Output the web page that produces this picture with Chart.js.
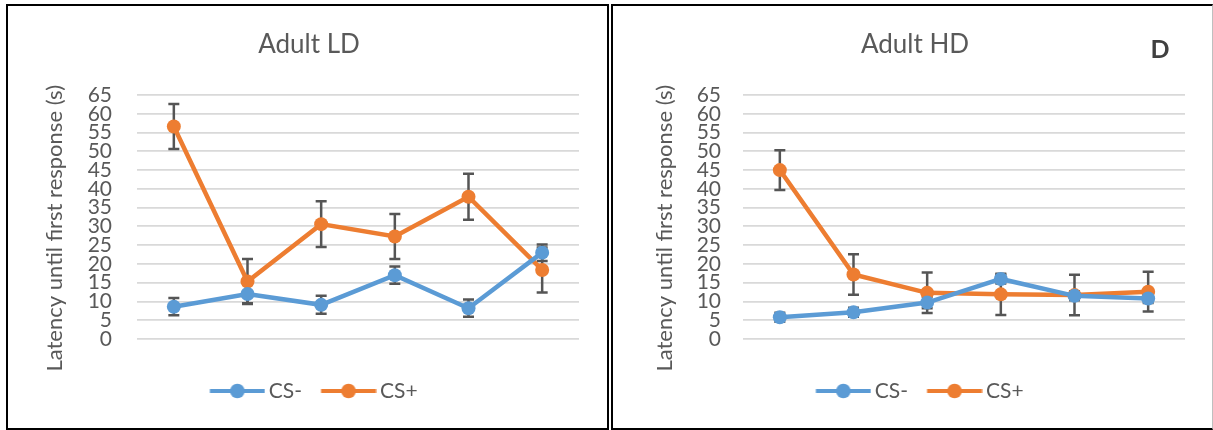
<!DOCTYPE html>
<html>
<head>
<meta charset="utf-8">
<script src="https://cdn.jsdelivr.net/npm/chart.js@4.4.1/dist/chart.umd.min.js"></script>
<style>
  html, body { margin: 0; padding: 0; background: #ffffff; }
  body { width: 1213px; height: 430px; position: relative; overflow: hidden; font-family: Lato, sans-serif; }
  .panel { position: absolute; box-sizing: border-box; background: #ffffff; }
  #panelLD { left: 6px; top: 4px; width: 603px; height: 426px; border: 2.5px solid #000000; }
  #panelHD { left: 611px; top: 4px; width: 602px; height: 426px;
             border-left: 2.5px solid #000000; border-top: 2.5px solid #000000;
             border-bottom: 2.5px solid #000000; border-right: 1.5px solid #bfbfbf; }
  canvas { position: absolute; }
  #chartLD { left: 8px; top: 6px; }
  #chartHD { left: 613px; top: 6px; }
  #tag { position: absolute; left: 1160px; top: 48px; transform: translate(-50%, -50%);
         font: bold 25px Lato, sans-serif; color: #404040; }
</style>
</head>
<body>
<div class="panel" id="panelLD"></div>
<div class="panel" id="panelHD"></div>
<canvas id="chartLD" width="598" height="422"></canvas>
<canvas id="chartHD" width="598" height="422"></canvas>
<div id="tag">D</div>
<script>
// Trials (not labelled on the x axis)
const trials = ['1', '2', '3', '4', '5', '6'];

// Y axis ticks
const yTicks = [0, 5, 10, 15, 20, 25, 30, 35, 40, 45, 50, 55, 60, 65];

// Adult LD: mean latency and error (s)
const ldCsMinus    = [8.6, 12.0, 9.1, 17.0, 8.2, 23.0];
const ldCsMinusErr = [2.3, 2.5, 2.4, 2.3, 2.3, 2.2];
const ldCsPlus     = [56.6, 15.3, 30.6, 27.3, 37.9, 18.4];
const ldCsPlusErr  = [6.0, 6.0, 6.1, 6.0, 6.1, 6.0];

// Adult HD: mean latency and error (s)
const hdCsMinus    = [5.8, 7.1, 9.7, 16.0, 11.5, 10.8];
const hdCsMinusErr = [1.2, 1.2, 1.5, 1.2, 1.2, 1.2];
const hdCsPlus     = [45.0, 17.2, 12.3, 11.9, 11.7, 12.6];
const hdCsPlusErr  = [5.3, 5.4, 5.4, 5.5, 5.4, 5.3];

const BLUE = '#5B9BD5';
const ORANGE = '#ED7D31';
const TEXT = '#595959';

Chart.defaults.font.family = 'Lato, "Open Sans", sans-serif';
Chart.defaults.color = TEXT;

// Legend swatch: a short line with a marker in the middle, sitting in the
// right part of a wider transparent image so the legend row stays centred
function legendSwatch(color) {
  const c = document.createElement('canvas');
  c.width = 72; c.height = 16;
  const g = c.getContext('2d');
  const x0 = 16.5, x1 = 71.5;
  g.strokeStyle = color; g.lineWidth = 4; g.lineCap = 'butt';
  g.beginPath(); g.moveTo(x0, 8); g.lineTo(x1, 8); g.stroke();
  g.fillStyle = color;
  g.beginPath(); g.arc((x0 + x1) / 2, 8, 7.3, 0, Math.PI * 2); g.fill();
  return c;
}
const swatchBlue = legendSwatch(BLUE);
const swatchOrange = legendSwatch(ORANGE);

// Vertical error bars with caps, drawn under the lines and markers
const errorBars = {
  id: 'errorBars',
  beforeDatasetsDraw(chart) {
    const ctx = chart.ctx;
    const x = chart.scales.x, y = chart.scales.y;
    ctx.save();
    ctx.strokeStyle = '#555555';
    ctx.lineWidth = 2.5;
    chart.data.datasets.forEach(ds => {
      ds.values.forEach((v, i) => {
        const e = ds.errors[i];
        const px = x.getPixelForValue(i);
        const top = y.getPixelForValue(v + e);
        const bot = y.getPixelForValue(v - e);
        ctx.beginPath();
        ctx.moveTo(px, top); ctx.lineTo(px, bot);
        ctx.moveTo(px - 5.5, top); ctx.lineTo(px + 5.5, top);
        ctx.moveTo(px - 5.5, bot); ctx.lineTo(px + 5.5, bot);
        ctx.stroke();
      });
    });
    ctx.restore();
  }
};

function series(label, values, errors, color) {
  return {
    label, data: values, values, errors,
    borderColor: color, backgroundColor: color,
    borderWidth: 4.5, tension: 0,
    pointRadius: 7, pointBorderWidth: 0, pointBackgroundColor: color,
    pointHoverRadius: 7
  };
}

function makeChart(id, title, minus, minusErr, plus, plusErr, geom) {
  return new Chart(document.getElementById(id), {
    type: 'line',
    data: {
      labels: trials,
      datasets: [
        series('CS-', minus, minusErr, BLUE),
        series('CS+', plus, plusErr, ORANGE)
      ]
    },
    options: {
      responsive: false,
      animation: false,
      events: [],
      layout: { padding: { left: geom.padLeft, right: geom.padRight, top: 0, bottom: 16.5 } },
      scales: {
        x: {
          type: 'category',
          offset: true,
          grid: { display: false, drawTicks: false },
          border: { display: false },
          ticks: { display: false },
          afterFit: s => { s.height = 32; }
        },
        y: {
          min: 0, max: 65,
          afterBuildTicks: s => { s.ticks = yTicks.map(v => ({ value: v })); },
          grid: { color: '#d9d9d9', lineWidth: 1.8, drawTicks: false },
          border: { display: false },
          ticks: { padding: geom.tickPad, font: { size: 21 }, color: TEXT, autoSkip: false },
          title: {
            display: true,
            // trailing spaces nudge the rotated label a little lower
            text: 'Latency until first response (s)    ',
            font: { size: 22 }, color: TEXT,
            padding: { top: geom.titlePad, bottom: 0 }
          },
          afterFit: s => { s.width = geom.axisWidth; }
        }
      },
      plugins: {
        title: {
          display: true, text: title,
          font: { size: 26, weight: 'normal' }, color: TEXT,
          padding: { top: 23.4, bottom: 34.4 }
        },
        legend: {
          position: 'bottom',
          labels: {
            usePointStyle: true,
            pointStyleWidth: 58,
            padding: 9.5,
            font: { size: 21 }, color: TEXT,
            generateLabels: ch => ch.data.datasets.map((ds, i) => ({
              text: ds.label,
              pointStyle: i === 0 ? swatchBlue : swatchOrange,
              fillStyle: ds.borderColor, strokeStyle: ds.borderColor,
              lineWidth: 0, fontColor: TEXT, datasetIndex: i, hidden: false
            }))
          }
        },
        tooltip: { enabled: false }
      }
    },
    plugins: [errorBars]
  });
}

makeChart('chartLD', 'Adult LD', ldCsMinus, ldCsMinusErr, ldCsPlus, ldCsPlusErr,
  { padLeft: 31, padRight: 27, axisWidth: 98, tickPad: 25, titlePad: 2.8 });
makeChart('chartHD', 'Adult HD', hdCsMinus, hdCsMinusErr, hdCsPlus, hdCsPlusErr,
  { padLeft: 32, padRight: 26, axisWidth: 98, tickPad: 22, titlePad: 6.8 });
</script>
</body>
</html>
